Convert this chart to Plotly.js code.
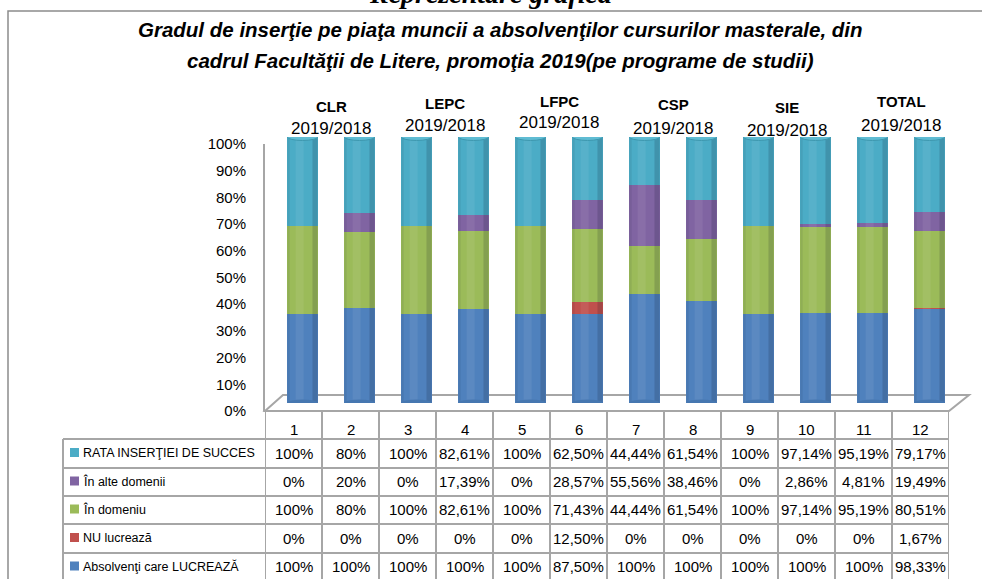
<!DOCTYPE html>
<html>
<head>
<meta charset="utf-8">
<script src="https://cdn.plot.ly/plotly-3.0.1.min.js"></script>
<style>html,body{margin:0;padding:0;background:#fff;}#chart{width:982px;height:579px;}</style>
</head>
<body>
<div id="chart"></div>
<script>
// ---------- DATA ----------
const categories = [1, 2, 3, 4, 5, 6, 7, 8, 9, 10, 11, 12];
const groupNames = ['CLR', 'LEPC', 'LFPC', 'CSP', 'SIE', 'TOTAL'];
const groupSub = '2019/2018';
const yTicks = [0, 10, 20, 30, 40, 50, 60, 70, 80, 90, 100];

const nameRata = 'RATA INSERŢIEI DE SUCCES';
const nameAlte = 'În alte domenii';
const nameDomeniu = 'În domeniu';
const nameNu = 'NU lucrează';
const nameLucreaza = 'Absolvenţi care LUCREAZĂ';

const rata     = [100, 80, 100, 82.61, 100, 62.50, 44.44, 61.54, 100, 97.14, 95.19, 79.17];
const alte     = [0, 20, 0, 17.39, 0, 28.57, 55.56, 38.46, 0, 2.86, 4.81, 19.49];
const domeniu  = [100, 80, 100, 82.61, 100, 71.43, 44.44, 61.54, 100, 97.14, 95.19, 80.51];
const nuLucr   = [0, 0, 0, 0, 0, 12.50, 0, 0, 0, 0, 0, 1.67];
const lucreaza = [100, 100, 100, 100, 100, 87.50, 100, 100, 100, 100, 100, 98.33];

// ---------- STYLE ----------
const W = 982, H = 579;
const C_BLUE = '#4F81BD', C_RED = '#C0504D', C_GREEN = '#9BBB59', C_PURPLE = '#8064A2', C_CYAN = '#4BACC6';
const GRID = '#a6a6a6';
const FONT = 'Liberation Sans, Arial, sans-serif';
const px = p => p / W;
const py = p => 1 - p / H;

const colL = 265, colR = 949;          // table columns span (pixels)
const colW = (colR - colL) / categories.length;
const barShift = 9 / colW;             // 3D depth shift of bars
const barW = 0.53;

const tableRows = [
  {name: nameRata, vals: rata, color: C_CYAN},
  {name: nameAlte, vals: alte, color: C_PURPLE},
  {name: nameDomeniu, vals: domeniu, color: C_GREEN},
  {name: nameNu, vals: nuLucr, color: C_RED},
  {name: nameLucreaza, vals: lucreaza, color: C_BLUE}
];
const rowLines = [439, 468, 496, 524, 553, 581];

const fmt = v => (Number.isInteger(v) ? String(v) : v.toFixed(2).replace('.', ',')) + '%';

// ---------- TRACES ----------
const stackOrder = [
  {name: nameLucreaza, vals: lucreaza, color: C_BLUE},
  {name: nameNu, vals: nuLucr, color: C_RED},
  {name: nameDomeniu, vals: domeniu, color: C_GREEN},
  {name: nameAlte, vals: alte, color: C_PURPLE},
  {name: nameRata, vals: rata, color: C_CYAN}
];
const traces = [];
// anchor trace for the table / tick axes
traces.push({type: 'scatter', mode: 'markers', x: categories, y: categories.map(() => null),
  xaxis: 'x2', yaxis: 'y', marker: {opacity: 0}, hoverinfo: 'skip', showlegend: false});
stackOrder.forEach(s => traces.push({
  type: 'bar', name: s.name, x: categories, y: s.vals,
  xaxis: 'x', yaxis: 'y2', width: barW,
  marker: {color: s.color, line: {width: 0}},
  hoverinfo: 'skip', showlegend: false
}));

// ---------- SHAPES ----------
const shapes = [];
shapes.push({type: 'rect', xref: 'paper', yref: 'paper', x0: px(8), x1: px(1000), y0: py(600), y1: py(11),
  line: {color: '#8c8c8c', width: 1.5}, fillcolor: 'rgba(0,0,0,0)', layer: 'below'});
shapes.push({type: 'path', xref: 'paper', yref: 'paper', layer: 'below',
  path: `M ${px(265)} ${py(411)} L ${px(283)} ${py(395)} L ${px(969)} ${py(395)} L ${px(949)} ${py(411)} Z`,
  line: {color: GRID, width: 2}, fillcolor: '#ffffff'});
categories.forEach(c => {
  const xc = c;
  shapes.push({type: 'rect', xref: 'x', yref: 'y2', x0: xc + barW / 2 - 0.09, x1: xc + barW / 2, y0: 0, y1: 100,
    line: {width: 0}, fillcolor: 'rgba(10,20,40,0.16)', layer: 'above'});
  shapes.push({type: 'rect', xref: 'x', yref: 'y2', x0: xc - barW / 2, x1: xc - barW / 2 + 0.04, y0: 0, y1: 100,
    line: {width: 0}, fillcolor: 'rgba(10,20,40,0.08)', layer: 'above'});
  shapes.push({type: 'rect', xref: 'x', yref: 'y2', x0: xc - 0.12, x1: xc + 0.02, y0: 0, y1: 100,
    line: {width: 0}, fillcolor: 'rgba(255,255,255,0.07)', layer: 'above'});
  shapes.push({type: 'circle', xref: 'x', yref: 'y2', x0: xc - barW / 2, x1: xc + barW / 2, y0: -1.3, y1: 1.3,
    line: {width: 0}, fillcolor: '#4677b0', layer: 'above'});
  shapes.push({type: 'circle', xref: 'x', yref: 'y2', x0: xc - barW / 2, x1: xc + barW / 2, y0: 98.7, y1: 101.3,
    line: {color: '#3d97ae', width: 1}, fillcolor: '#5fbcd3', layer: 'above'});
});
for (let k = 0; k <= categories.length; k++) {
  shapes.push({type: 'line', xref: 'x2', yref: 'paper', x0: k + 0.5, x1: k + 0.5, y0: py(411), y1: py(581),
    line: {color: GRID, width: 2}});
}
shapes.push({type: 'line', xref: 'paper', yref: 'paper', x0: px(63), x1: px(63), y0: py(439), y1: py(581),
  line: {color: GRID, width: 2}});
rowLines.forEach(yy => shapes.push({type: 'line', xref: 'paper', yref: 'paper', x0: px(63), x1: px(949),
  y0: py(yy), y1: py(yy), line: {color: GRID, width: 2}}));
tableRows.forEach((r, j) => {
  const yc = (rowLines[j] + rowLines[j + 1]) / 2 - 1;
  shapes.push({type: 'rect', xref: 'paper', yref: 'paper', x0: px(70), x1: px(79), y0: py(yc + 4.5), y1: py(yc - 4.5),
    line: {width: 0}, fillcolor: r.color});
});

// ---------- ANNOTATIONS ----------
const ann = [];
ann.push({xref: 'paper', yref: 'paper', x: px(490), y: py(-6), xanchor: 'center', yanchor: 'middle',
  text: '<b><i>Reprezentare grafică</i></b>', showarrow: false,
  font: {family: 'Liberation Serif, Times New Roman, serif', size: 28, color: '#000'}});
ann.push({xref: 'paper', yref: 'paper', x: px(500), y: py(30), xanchor: 'center', yanchor: 'middle', showarrow: false,
  text: '<b><i>Gradul de inserţie pe piaţa muncii a absolvenţilor cursurilor masterale, din</i></b>',
  font: {family: FONT, size: 20.5, color: '#000'}});
ann.push({xref: 'paper', yref: 'paper', x: px(500), y: py(60), xanchor: 'center', yanchor: 'middle', showarrow: false,
  text: '<b><i>cadrul Facultăţii de Litere, promoţia 2019(pe programe de studii)</i></b>',
  font: {family: FONT, size: 20.5, color: '#000'}});
const grpNameY = [106, 103, 102, 105, 107, 102];
const grpSubY = [128, 125, 122, 128, 130, 125];
groupNames.forEach((g, i) => {
  const xc = categories[2 * i] + 0.5;
  ann.push({xref: 'x', yref: 'paper', x: xc, y: py(grpNameY[i]), xanchor: 'center', yanchor: 'middle',
    text: '<b>' + g + '</b>', showarrow: false, font: {family: FONT, size: 15, color: '#000'}});
  ann.push({xref: 'x', yref: 'paper', x: xc, y: py(grpSubY[i]), xanchor: 'center', yanchor: 'middle',
    text: groupSub, showarrow: false, font: {family: FONT, size: 17, color: '#000'}});
});
categories.forEach(c => ann.push({xref: 'x2', yref: 'paper', x: c, y: py(429), xanchor: 'center', yanchor: 'middle',
  text: String(c), showarrow: false, font: {family: FONT, size: 15, color: '#000'}}));
tableRows.forEach((r, j) => {
  const yc = (rowLines[j] + rowLines[j + 1]) / 2 - 0.5;
  ann.push({xref: 'paper', yref: 'paper', x: px(81), y: py(yc), xanchor: 'left', yanchor: 'middle',
    text: r.name, showarrow: false, font: {family: FONT, size: 12.5, color: '#000'}});
  r.vals.forEach((v, i) => ann.push({xref: 'x2', yref: 'paper', x: categories[i], y: py(yc), xanchor: 'center',
    yanchor: 'middle', text: fmt(v), showarrow: false, font: {family: FONT, size: 15, color: '#000'}}));
});

// ---------- LAYOUT ----------
const layout = {
  width: W, height: H, margin: {l: 0, r: 0, t: 0, b: 0, pad: 0},
  paper_bgcolor: '#ffffff', plot_bgcolor: 'rgba(0,0,0,0)',
  barmode: 'stack', barnorm: 'percent', showlegend: false,
  xaxis2: {domain: [px(colL), px(colR)], range: [0.5, categories.length + 0.5],
    visible: false, fixedrange: true, anchor: 'y'},
  yaxis: {domain: [py(411), py(144)], range: [0, 100], anchor: 'x2',
    tickmode: 'array', tickvals: yTicks, ticktext: yTicks.map(v => v + '%'),
    ticks: '', ticklabelstandoff: 14, showgrid: false, zeroline: false,
    showline: true, linecolor: GRID, linewidth: 2, tickfont: {family: FONT, size: 15, color: '#000'}, fixedrange: true},
  xaxis: {domain: [px(colL), px(colR)], range: [0.5 - barShift, categories.length + 0.5 - barShift],
    visible: false, fixedrange: true, anchor: 'y2'},
  yaxis2: {domain: [py(403), py(137)], range: [0, 100], visible: false, anchor: 'x', fixedrange: true},
  shapes: shapes, annotations: ann
};

Plotly.newPlot('chart', traces, layout, {displayModeBar: false, staticPlot: true});
</script>
</body>
</html>
